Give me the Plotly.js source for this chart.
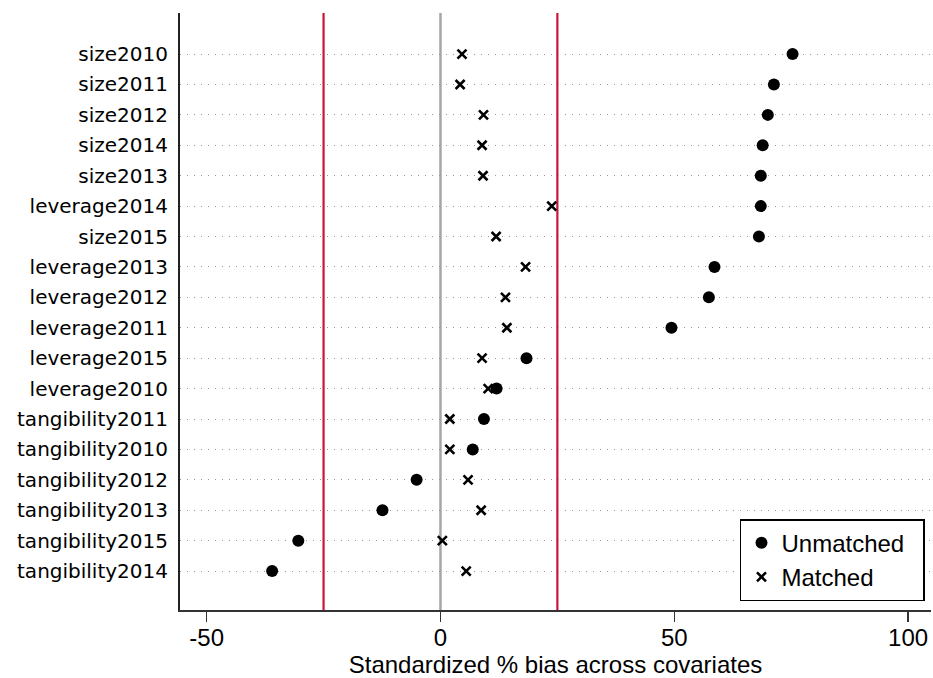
<!DOCTYPE html>
<html>
<head>
<meta charset="utf-8">
<script src="https://cdn.plot.ly/plotly-3.0.1.min.js"></script>
<style>html,body{margin:0;padding:0;background:#fff;}#chart{width:933px;height:678px;}</style>
</head>
<body>
<div id="chart"></div>
<script>
// Covariates, top to bottom
var covariates = ["size2010","size2011","size2012","size2014","size2013","leverage2014","size2015",
  "leverage2013","leverage2012","leverage2011","leverage2015","leverage2010",
  "tangibility2011","tangibility2010","tangibility2012","tangibility2013","tangibility2015","tangibility2014"];
// Standardized % bias
var unmatched = [75.3,71.3,70.0,68.9,68.5,68.5,68.1,58.6,57.4,49.4,18.4,12.0,9.3,6.9,-5.1,-12.4,-30.4,-36.0];
var matched   = [4.6,4.2,9.2,8.9,9.1,23.8,11.9,18.2,13.9,14.2,8.9,10.2,2.0,2.0,5.9,8.7,0.4,5.5];
var seriesNames = ["Unmatched", "Matched"];
var xTicks = [-50, 0, 50, 100];
var thresholds = [-25, 25];
var zeroLine = [0];

var pad = "\u00a0\u00a0";
var traces = [
  {type:'scatter', mode:'markers', name:seriesNames[1] + pad, x:matched, y:covariates, legendrank:2,
   marker:{symbol:'x-thin-open', size:9, color:'#000', line:{width:2.6, color:'#000'}}},
  {type:'scatter', mode:'markers', name:seriesNames[0] + pad, x:unmatched, y:covariates, legendrank:1,
   marker:{symbol:'circle', size:12, color:'#000'}}
];

var shapes = [];
thresholds.forEach(function(v){
  shapes.push({type:'line', xref:'x', yref:'paper', x0:v, x1:v, y0:0, y1:1, layer:'below',
    line:{color:'#c8143c', width:2.2}});
});
zeroLine.forEach(function(v){
  shapes.push({type:'line', xref:'x', yref:'paper', x0:v, x1:v, y0:0, y1:1, layer:'below',
    line:{color:'#a6a6a6', width:2.5}});
});

var layout = {
  width:933, height:678,
  margin:{l:180, r:2, t:13, b:68},
  paper_bgcolor:'#fff', plot_bgcolor:'#fff',
  showlegend:true,
  font:{family:'Liberation Sans, Arial, sans-serif', color:'#000'},
  xaxis:{
    range:[-55.7, 104.9], tickvals:xTicks, ticktext:xTicks.map(String),
    ticks:'outside', ticklen:10, tickwidth:1.5, tickcolor:'#333',
    ticklabelstandoff:-5,
    showgrid:false, zeroline:false,
    showline:true, linecolor:'#333', linewidth:2,
    tickfont:{size:24, family:'Liberation Sans, Arial, sans-serif'},
    title:{text:'Standardized % bias across covariates', font:{size:24, family:'Liberation Sans, Arial, sans-serif'}, standoff:2}
  },
  yaxis:{
    type:'category', categoryorder:'array', categoryarray:covariates,
    range:[18.28, -1.35],
    ticks:'', showgrid:true, gridcolor:'#999', gridwidth:1, griddash:'1px,6px',
    zeroline:false, showline:true, linecolor:'#222', linewidth:2,
    ticklabelstandoff:6,
    tickfont:{size:20, family:'DejaVu Sans, sans-serif'}
  },
  legend:{
    x:0.992, xanchor:'right', y:0.015, yanchor:'bottom',
    bgcolor:'#fff', bordercolor:'#000', borderwidth:1.5,
    font:{size:24, family:'Liberation Sans, Arial, sans-serif'},
    itemwidth:30, tracegroupgap:0
  },
  shapes:shapes
};

Plotly.newPlot('chart', traces, layout, {displayModeBar:false, staticPlot:true});
</script>
</body>
</html>
